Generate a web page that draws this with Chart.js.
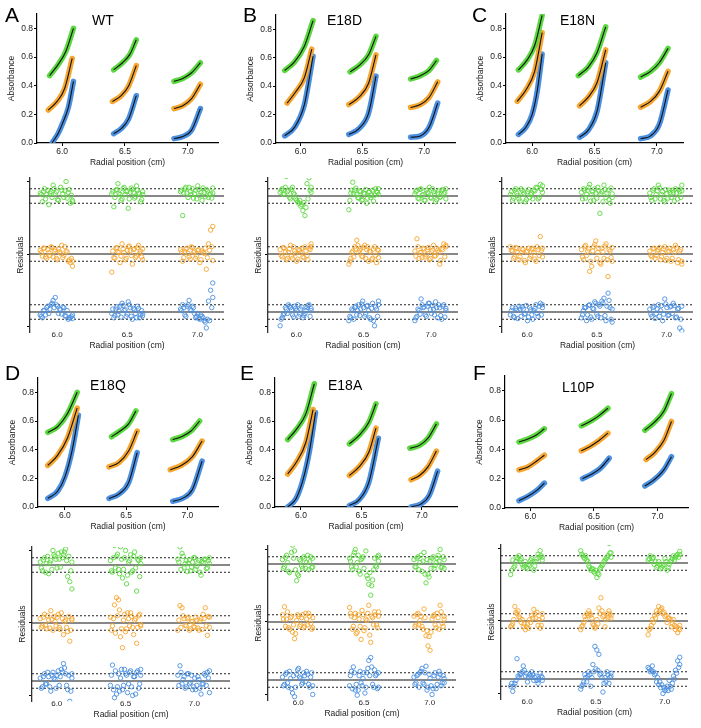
<!DOCTYPE html>
<html>
<head>
<meta charset="utf-8">
<script src="https://cdn.jsdelivr.net/npm/chart.js@4.4.1/dist/chart.umd.min.js"></script>
<style>
  body { margin: 0; background: #fff; width: 701px; height: 728px; position: relative; overflow: hidden;
         font-family: "Liberation Sans", Arial, sans-serif; color: #000; }
  .letter { position: absolute; font-size: 21px; line-height: 21px; }
  .name { position: absolute; font-size: 14px; line-height: 14px; }
</style>
</head>
<body>
<script>
Chart.defaults.font.family = '"Liberation Sans", Arial, sans-serif';
Chart.defaults.color = "#222";

const panelLetters = ["A", "B", "C", "D", "E", "F"];
const panelNames = ["WT", "E18D", "E18N", "E18Q", "E18A", "L10P"];
const radialTicks = [6.0, 6.5, 7.0];
const absTicks = [0.0, 0.2, 0.4, 0.6, 0.8];
const residualTicks = [-100, 0, 100];
const residualOffsets = [80, 0, -80]; // green, orange, blue baselines
const residualLimit = 10;             // dotted lines
const residualSpans = [[5.88, 6.11], [6.39, 6.61], [6.88, 7.11]];
const seriesColors = ["#5bd83f", "#f6a630", "#4a8fe0"];

/* ABSORBANCE: [radial position, absorbance] for each of the 3 segments */
const wtGreen = [[[5.90, 0.47], [5.97, 0.55], [6.03, 0.64], [6.09, 0.80]],
                 [[6.41, 0.51], [6.48, 0.56], [6.54, 0.62], [6.59, 0.72]],
                 [[6.89, 0.43], [6.96, 0.45], [7.03, 0.49], [7.10, 0.56]]];
const wtOrange = [[[5.89, 0.23], [5.96, 0.29], [6.02, 0.38], [6.08, 0.59]],
                  [[6.40, 0.29], [6.47, 0.33], [6.53, 0.40], [6.59, 0.54]],
                  [[6.89, 0.24], [6.96, 0.26], [7.03, 0.31], [7.10, 0.41]]];
const wtBlue = [[[5.92, 0.00], [5.97, 0.07], [6.00, 0.13], [6.05, 0.25], [6.09, 0.43]],
                [[6.41, 0.065], [6.47, 0.10], [6.53, 0.17], [6.59, 0.33]],
                [[6.89, 0.03], [6.96, 0.045], [7.03, 0.09], [7.10, 0.24]]];

const e18dGreen = [[[5.87, 0.51], [5.95, 0.57], [6.03, 0.68], [6.10, 0.86]],
                   [[6.40, 0.50], [6.48, 0.55], [6.55, 0.62], [6.61, 0.75]],
                   [[6.89, 0.45], [6.96, 0.47], [7.04, 0.51], [7.10, 0.58]]];
const e18dOrange = [[[5.89, 0.28], [5.96, 0.36], [6.03, 0.46], [6.09, 0.66]],
                    [[6.39, 0.27], [6.47, 0.32], [6.55, 0.42], [6.61, 0.62]],
                    [[6.89, 0.25], [6.97, 0.27], [7.04, 0.32], [7.11, 0.43]]];
const e18dBlue = [[[5.87, 0.05], [5.95, 0.11], [6.03, 0.27], [6.10, 0.61]],
                  [[6.39, 0.06], [6.47, 0.10], [6.55, 0.21], [6.61, 0.47]],
                  [[6.89, 0.04], [6.97, 0.05], [7.04, 0.11], [7.11, 0.28]]];

const e18nGreen = [[[5.89, 0.51], [5.96, 0.58], [6.02, 0.68], [6.08, 0.89]],
                   [[6.37, 0.47], [6.45, 0.53], [6.52, 0.63], [6.59, 0.81]],
                   [[6.87, 0.46], [6.95, 0.50], [7.02, 0.56], [7.09, 0.66]]];
const e18nOrange = [[[5.88, 0.29], [5.95, 0.37], [6.02, 0.50], [6.08, 0.77]],
                    [[6.38, 0.26], [6.45, 0.32], [6.52, 0.42], [6.59, 0.65]],
                    [[6.87, 0.25], [6.95, 0.29], [7.02, 0.36], [7.09, 0.50]]];
const e18nBlue = [[[5.89, 0.06], [5.95, 0.11], [6.00, 0.20], [6.04, 0.36], [6.08, 0.62]],
                  [[6.38, 0.04], [6.45, 0.09], [6.52, 0.22], [6.59, 0.56]],
                  [[6.87, 0.03], [6.95, 0.05], [7.02, 0.13], [7.09, 0.37]]];

const e18qGreen = [[[5.86, 0.52], [5.94, 0.56], [6.02, 0.65], [6.10, 0.80]],
                   [[6.38, 0.49], [6.45, 0.53], [6.52, 0.58], [6.58, 0.67]],
                   [[6.88, 0.47], [6.95, 0.49], [7.03, 0.53], [7.10, 0.60]]];
const e18qOrange = [[[5.86, 0.29], [5.94, 0.36], [6.02, 0.48], [6.10, 0.69]],
                    [[6.36, 0.28], [6.44, 0.31], [6.52, 0.39], [6.59, 0.53]],
                    [[6.86, 0.26], [6.95, 0.29], [7.04, 0.35], [7.12, 0.46]]];
const e18qBlue = [[[5.86, 0.06], [5.94, 0.11], [6.00, 0.21], [6.06, 0.40], [6.11, 0.64]],
                  [[6.36, 0.06], [6.44, 0.09], [6.52, 0.17], [6.59, 0.38]],
                  [[6.88, 0.04], [6.96, 0.06], [7.04, 0.12], [7.12, 0.32]]];

const e18aGreen = [[[5.89, 0.47], [5.96, 0.54], [6.04, 0.65], [6.11, 0.86]],
                   [[6.40, 0.44], [6.48, 0.50], [6.56, 0.59], [6.62, 0.72]],
                   [[6.90, 0.41], [6.98, 0.43], [7.05, 0.48], [7.12, 0.58]]];
const e18aOrange = [[[5.89, 0.23], [5.96, 0.31], [6.04, 0.45], [6.10, 0.68]],
                    [[6.40, 0.22], [6.48, 0.28], [6.56, 0.38], [6.62, 0.55]],
                    [[6.91, 0.19], [6.98, 0.22], [7.05, 0.28], [7.12, 0.39]]];
const e18aBlue = [[[5.89, 0.00], [5.96, 0.06], [6.02, 0.20], [6.07, 0.39], [6.12, 0.66]],
                  [[6.40, 0.01], [6.48, 0.05], [6.56, 0.17], [6.64, 0.48]],
                  [[6.91, 0.00], [6.99, 0.02], [7.06, 0.08], [7.13, 0.25]]];

const l10pGreen = [[[5.91, 0.45], [5.98, 0.47], [6.05, 0.50], [6.11, 0.54]],
                   [[6.40, 0.56], [6.47, 0.59], [6.54, 0.63], [6.61, 0.68]],
                   [[6.90, 0.53], [6.97, 0.58], [7.05, 0.66], [7.11, 0.78]]];
const l10pOrange = [[[5.91, 0.26], [5.98, 0.28], [6.05, 0.32], [6.11, 0.36]],
                    [[6.40, 0.39], [6.47, 0.42], [6.54, 0.46], [6.61, 0.51]],
                    [[6.91, 0.33], [6.98, 0.38], [7.05, 0.46], [7.11, 0.59]]];
const l10pBlue = [[[5.91, 0.05], [5.98, 0.08], [6.05, 0.12], [6.11, 0.17]],
                  [[6.41, 0.20], [6.48, 0.23], [6.55, 0.27], [6.62, 0.34]],
                  [[6.90, 0.15], [6.97, 0.19], [7.05, 0.26], [7.11, 0.35]]];

/* RESIDUALS (mAU), one list per segment, read left to right.
   "...Res" = first pass of points, "...Res2" = the points lying between them */
const wtGreenRes = [[4, -8, 10, 2, -12, 6, 15, 3, -5, 28, 8, -2, 20, 5, -10, -6],
                    [3, -15, 8, 17, 2, -4, 12, 6, -17, 5, 9, -3, 14, 4, -8, 2],
                    [6, -27, 10, 4, 12, 2, -3, 8, 14, 1, -6, 5, 9, -2, 3, 11]];
const wtGreenRes2 = [[2, 6, -4, 8, 4, -2, 10, 6, -6, 12, 3, 7, -3, 9, 1, -8],
                     [6, -2, 9, 4, -6, 10, 2, 7, -4, 11, 5, -1, 8, 3, -5, 6],
                     [8, 4, 12, -2, 6, 10, 3, -4, 9, 5, 11, -1, 7, 2, -3, 4]];
const wtOrangeRes = [[5, -3, 8, -6, 2, 10, -4, 6, -8, 3, 12, -2, 4, -10, -12, -17],
                     [-25, -5, 8, 3, -12, 14, 2, -6, 10, 5, -14, 7, -3, 12, 4, -8],
                     [6, -10, 3, 8, -4, 10, 2, -6, 5, -12, 4, 1, -21, 14, 33, 38]];
const wtOrangeRes2 = [[2, 8, -4, 6, -2, 9, 4, -6, 7, 1, -5, 10, 3, -8, -6, -10],
                      [4, -6, 9, 2, -3, 7, -8, 5, 11, -2, 6, -5, 9, 1, -4, 7],
                      [3, -5, 7, 1, -7, 9, 4, -3, 6, -8, 2, 8, -5, 5, 10, -9]];
const wtBlueRes = [[-4, -8, 2, 6, -2, 10, 16, 20, 8, 4, -3, 6, -6, -10, -8, -4],
                   [-2, -8, 4, -4, 8, 12, 2, -6, 14, 6, -10, 3, -8, 5, -4, -2],
                   [4, 10, -4, 8, 16, 2, 6, -8, -2, -10, -6, -12, -22, 15, 30, 40]];
const wtBlueRes2 = [[-6, 2, -4, 8, 4, 12, 6, 10, -2, 3, 7, -5, 2, -8, -6, -9],
                    [4, -5, 7, 1, -7, 9, 3, -3, 10, -6, 5, -2, 8, -8, 2, -5],
                    [2, 6, -6, 10, 3, 8, -2, -6, -9, -4, -8, -14, -10, -12, 6, 20]];

const e18dGreenRes = [[5, 10, 3, 27, 8, -4, 12, 2, -6, -10, -14, -20, -27, 17, 25, 5],
                      [-19, 4, 19, 8, 2, -3, 6, -5, 3, -10, 5, -2, 8, 1, 6, 10],
                      [3, 8, -4, 10, 2, -6, 5, 12, -3, 6, -8, 4, -2, 7, 3, 10]];
const e18dGreenRes2 = [[8, 2, 12, 6, -2, 9, 4, -4, -8, -6, -12, -9, -16, -4, 8, 12],
                       [-6, 8, 3, 11, -2, 7, -6, 4, 9, -3, 6, 1, -7, 10, 5, 2],
                       [6, -3, 9, 1, -6, 8, 4, -2, 10, 3, -5, 7, -1, 9, 5, -4]];
const e18dOrangeRes = [[6, -4, 8, -8, 2, 12, -6, 4, -10, 6, 2, -4, 10, -2, 8, 14],
                       [-14, -6, 4, 10, 19, 2, 8, -4, 12, 6, -10, 3, -6, 10, -12, 5],
                       [4, 21, -6, 2, 8, -4, 6, -8, 3, 12, -2, 5, -14, 8, 14, 10]];
const e18dOrangeRes2 = [[-2, 9, 3, -6, 7, -3, 10, 1, -7, 5, 8, -5, 4, -8, 6, 10],
                        [-10, 2, -4, 7, 12, 5, -3, 9, -6, 10, 4, -8, 7, -2, 6, -5],
                        [-3, 10, 2, -5, 7, -1, 9, -6, 5, -3, 8, 2, -9, 6, -4, 12]];
const e18dBlueRes = [[-19, -8, -2, 4, 10, 6, -4, 8, 2, -6, 4, -8, -2, 6, 10, 2],
                     [-12, -8, 2, 6, -4, 10, 4, 15, -6, 8, 2, -10, 12, -19, 4, 15],
                     [-12, -6, 2, 18, 6, -4, 8, 12, -2, 4, 14, -8, 6, -10, 10, 2]];
const e18dBlueRes2 = [[-10, -4, 6, -2, 8, 3, -7, 5, 10, -3, 7, -5, 2, 9, -6, 5],
                      [-6, 4, -10, 8, 2, -5, 11, 6, -3, 9, -8, 5, -12, 7, -6, 10],
                      [-8, 4, -3, 10, 7, -6, 12, 3, 9, -4, 6, 10, -5, 8, -7, 5]];

const e18nGreenRes = [[2, -6, 8, 4, -4, 10, 2, -8, 6, -2, 4, 8, 12, -4, 16, 14],
                      [5, 10, -3, 8, 16, 2, -6, 4, 12, -24, 6, 15, -2, 8, -10, 3],
                      [4, -6, 10, 2, 15, -4, 6, -8, 3, 8, -2, 5, 10, -4, 6, 15]];
const e18nGreenRes2 = [[6, -3, 10, 1, -7, 8, 4, -5, 9, 2, -4, 7, 11, -2, 9, 5],
                       [-4, 8, 2, 12, -7, 6, 10, -3, 7, 3, -8, 9, 4, -5, 11, -2],
                       [-2, 8, -4, 7, 11, 2, -6, 9, -3, 5, 8, -7, 4, 9, -2, 7]];
const e18nOrangeRes = [[10, 4, -4, 8, -8, 2, 6, -12, 4, -6, 8, 2, -10, 6, 24, -4],
                       [6, -8, 12, 4, -24, -17, 10, 18, 2, -12, 8, -6, 14, -31, 4, -10],
                       [4, -4, 8, -2, 6, -8, 2, 10, -6, 4, -10, 6, 12, -12, 4, -14]];
const e18nOrangeRes2 = [[5, -6, 9, 2, -4, 7, -9, 3, 8, -3, 6, -7, 10, -2, 5, 8],
                        [-4, 10, -2, 7, -10, 4, 13, -6, 8, -14, 3, 11, -8, 6, -5, 9],
                        [-2, 7, -6, 4, 9, -4, 7, -9, 3, 8, -6, 2, 9, -8, 6, -10]];
const e18nBlueRes = [[-4, 6, -8, 2, 8, -6, 4, -2, -12, 6, -4, 2, 10, -6, 12, 6],
                     [-8, 2, 6, -4, 10, -10, 4, 12, -6, 8, 15, 19, -12, 26, 6, -14],
                     [4, -6, 8, -2, 10, 2, -12, 18, 6, -4, 8, 12, -8, 4, -22, -26]];
const e18nBlueRes2 = [[2, -6, 5, -9, 4, 7, -3, 9, -7, 3, -10, 5, -2, 8, -4, 10],
                      [-4, 6, -12, 9, -7, 5, 14, -3, 10, -8, 12, -5, 8, 16, -10, 4],
                      [-3, 6, -9, 4, -6, 9, -3, 11, -5, 7, -2, 9, -7, 5, -10, 8]];

const e18qGreenRes = [[4, -8, 10, 2, -12, 6, 20, 12, -4, 8, 18, 14, 22, -16, -23, -33],
                      [6, -10, 27, 12, -6, 25, -18, 10, -26, 4, 14, -8, 18, -36, 6, 2],
                      [8, 25, 16, -4, 6, 2, -8, 4, 10, -2, 6, -14, 3, 8, -4, 10]];
const e18qGreenRes2 = [[-4, 7, -10, 12, 3, -6, 14, 8, 16, -3, 10, 18, 6, 12, -8, 4],
                       [-8, 10, -4, 15, -12, 8, -6, 20, -14, 6, -10, 12, -4, 8, -16, 10],
                       [4, -6, 12, 2, -9, 7, -3, 10, -6, 3, -10, 5, 8, -5, 6, 2]];
const e18qOrangeRes = [[6, -4, 12, -8, 4, 17, -10, 2, 8, -6, 14, -16, 4, -12, -25, 6],
                       [8, -4, 25, 35, 32, -19, -34, 12, -8, 6, 14, -6, 4, -28, 10, -4],
                       [-10, 24, 21, 6, -4, 8, -8, 2, -6, 4, -10, 6, 12, 21, -17, 8]];
const e18qOrangeRes2 = [[-6, 8, -3, 10, -7, 5, 9, -4, 12, -9, 6, 2, -6, 9, -10, 4],
                        [-10, 6, -14, 10, 18, -8, 4, -12, 14, -4, 9, -16, 6, -6, 12, -2],
                        [4, -6, 10, -3, 6, -10, 2, -5, 8, -7, 3, -9, 6, -4, 9, -6]];
const e18qBlueRes = [[4, -8, 10, -4, 6, -14, 12, 2, 8, -6, 16, 24, 10, -12, -28, 4],
                     [-6, 22, -23, -18, 10, 4, -12, 16, 8, -4, 14, -20, 6, 12, -10, 16],
                     [8, 21, -4, 6, -8, 10, -2, -12, 4, -6, 2, -18, -4, 8, 12, -16]];
const e18qBlueRes2 = [[-10, 6, -4, 12, -8, 8, 4, -10, 14, 6, 12, 18, -6, 8, -14, 10],
                      [8, -12, 14, -8, -14, 16, -6, 10, -16, 12, -8, 6, -18, 14, -4, 8],
                      [-6, 12, 2, -10, 10, -4, 8, -8, -12, 6, -10, -4, 10, -6, 4, 14]];

const e18aGreenRes = [[6, -4, 12, -10, 30, 26, 18, -23, -16, 4, -6, 8, 2, -8, 10, -4],
                      [8, -4, 12, 20, 2, -10, 6, 10, 29, -16, -28, -43, -22, 8, -4, 12],
                      [6, -4, 10, 2, -10, 16, -26, -14, 4, 8, -6, 2, 12, 20, -4, 6]];
const e18aGreenRes2 = [[-6, 9, 2, -12, 16, 8, -8, -14, 6, -3, 10, -6, 12, 3, -5, 8],
                       [4, -8, 16, -4, 12, -14, 8, -6, 18, -20, -12, -30, -8, -2, 10, 4],
                       [-4, 8, -8, 12, 4, -14, 6, -18, -6, 10, -2, 8, 4, -5, 10, -6]];
const e18aOrangeRes = [[10, 21, 4, -8, 6, -14, -23, 2, 8, -4, 10, -6, 4, 12, -2, -8],
                       [20, 8, -6, 12, -14, 4, -24, 10, -8, 2, 23, -28, 6, 14, -4, 8],
                       [8, -4, 12, 2, -6, 18, -19, -33, -39, 4, 10, -8, 6, 23, -2, 8]];
const e18aOrangeRes2 = [[4, -6, 14, -10, 8, -4, -16, 10, -6, 6, -8, 12, -4, 8, -10, 6],
                        [12, -10, 6, -16, 10, -6, 16, -12, 4, 12, -18, 8, -4, 10, -8, 14],
                        [-6, 10, -4, 8, -10, 6, -12, -20, -14, 8, -4, 12, -10, 14, -6, 4]];
const e18aBlueRes = [[4, -6, 10, -10, 2, -18, -23, 8, 16, 2, -4, 6, 12, -6, 4, -20],
                     [-8, 12, 18, -14, -21, 6, -4, 2, -18, 10, 27, 31, -6, 14, 8, -10],
                     [4, -4, 8, 10, 16, -6, 19, -10, 2, -20, 6, -12, 4, 8, -4, 2]];
const e18aBlueRes2 = [[-8, 8, -4, 12, -12, 6, -10, 14, 4, -6, 10, -2, 8, -10, 10, -8],
                      [6, -12, 10, -6, -14, 12, -8, 10, -10, 16, 6, 18, -10, 6, -12, 10],
                      [-6, 6, -10, 12, -4, 10, -14, 8, -8, -12, 10, -6, 12, -8, 6, -4]];

const l10pGreenRes = [[-16, 4, -4, 8, 10, 6, -6, 2, -8, -4, 6, -10, 2, 12, 17, 8],
                      [17, 10, 6, 4, -4, -10, -8, -14, -20, -16, -6, -2, 4, 8, 27, 14],
                      [4, 10, 6, -2, -6, 2, -8, -4, 6, -10, -2, 4, 10, 8, 12, 16]];
const l10pGreenRes2 = [[-10, -6, 2, 6, 4, -2, -4, -6, -2, 4, 2, -4, 6, 8, 10, 4],
                       [12, 8, 10, 2, -6, -8, -12, -10, -14, -8, -4, 2, 6, 10, 14, 8],
                       [6, 2, 8, 2, -4, -2, -6, -2, 2, -6, 2, 6, 4, 10, 8, 12]];
const l10pOrangeRes = [[-8, -4, 20, 10, 6, -2, -8, -12, -4, 2, 8, 16, 4, -6, -10, 10],
                       [-12, -6, 6, 10, 14, 8, -4, -10, 2, 18, 32, 6, -8, 10, 14, 4],
                       [-19, -10, 2, 8, 14, 20, 16, 10, 6, -2, 4, -8, 2, -12, -16, -6]];
const l10pOrangeRes2 = [[-6, 2, 12, 14, 4, 2, -4, -8, -10, -2, 4, 10, 12, 2, -6, 4],
                        [-8, -2, 2, 8, 10, 4, -6, -8, -4, 10, 14, 8, 2, 4, 10, 8],
                        [-12, -6, -2, 4, 10, 14, 18, 12, 8, 4, 2, -4, -6, -8, -10, -12]];
const l10pBlueRes = [[-10, -17, -6, 28, 2, 8, 18, 4, -4, 6, 10, -2, 4, -6, 8, -2],
                     [-14, -8, 6, -4, 10, -10, 20, 45, 40, 34, 8, -18, 2, 10, -6, 4],
                     [16, 10, 18, 6, -4, -8, -12, -20, -16, -10, -2, -14, 4, 12, 25, 30]];
const l10pBlueRes2 = [[-6, -10, -2, 4, 6, 10, 12, 8, 2, 4, 6, 2, -2, 0, 4, 2],
                      [-10, -4, 2, 4, 6, 2, 10, 14, 12, 6, 2, -6, -4, 6, 2, 8],
                      [14, 12, 10, 8, 2, -4, -8, -12, -14, -16, -10, -6, 0, 8, 16, 20]];

const absData = [
  [wtGreen, wtOrange, wtBlue], [e18dGreen, e18dOrange, e18dBlue], [e18nGreen, e18nOrange, e18nBlue],
  [e18qGreen, e18qOrange, e18qBlue], [e18aGreen, e18aOrange, e18aBlue], [l10pGreen, l10pOrange, l10pBlue]
];
const resData = [
  [wtGreenRes, wtOrangeRes, wtBlueRes], [e18dGreenRes, e18dOrangeRes, e18dBlueRes],
  [e18nGreenRes, e18nOrangeRes, e18nBlueRes], [e18qGreenRes, e18qOrangeRes, e18qBlueRes],
  [e18aGreenRes, e18aOrangeRes, e18aBlueRes], [l10pGreenRes, l10pOrangeRes, l10pBlueRes]
];
const resData2 = [
  [wtGreenRes2, wtOrangeRes2, wtBlueRes2], [e18dGreenRes2, e18dOrangeRes2, e18dBlueRes2],
  [e18nGreenRes2, e18nOrangeRes2, e18nBlueRes2], [e18qGreenRes2, e18qOrangeRes2, e18qBlueRes2],
  [e18aGreenRes2, e18aOrangeRes2, e18aBlueRes2], [l10pGreenRes2, l10pOrangeRes2, l10pBlueRes2]
];

/* LAYOUT (page pixels) */
const colX = [0, 235, 470], colW = [235, 235, 231];
const absRow = [[0, 172], [360, 177]];
const resRow = [[172, 188], [537, 191]];
const absArea = [[37, 218, 14, 143], [276, 455, 15, 143], [506, 683, 14, 143],
                 [38, 218, 378, 507], [275, 457, 378, 507], [505, 688, 376, 508]];
const absX = [[5.80, 7.24], [5.80, 7.25], [5.79, 7.21], [5.78, 7.25], [5.785, 7.29], [5.80, 7.24]];
const resArea = [[30, 224, 254], [268, 458, 254], [502, 693, 254], [32, 232, 623], [268, 456, 622], [501, 688, 621]];
const resX = [[5.807, 7.19], [5.79, 7.2], [5.82, 7.19], [5.82, 7.26], [5.77, 7.2], [5.81, 7.17]];
const resMin = -108, resMax = 105, resPx = 0.725;
const letterPos = [[5, 4], [243, 4], [472, 4], [5, 362], [240, 362], [473, 362]];
const namePos = [[92, 13], [327, 13], [560, 13], [90, 378], [328, 378], [562, 380]];

function addCanvas(x, y, w, h) {
  const c = document.createElement("canvas");
  c.width = w;
  c.height = h;
  c.style.cssText = `position:absolute;left:${x}px;top:${y}px;width:${w}px;height:${h}px`;
  document.body.appendChild(c);
  return c;
}

function addText(cls, text, pos) {
  const d = document.createElement("div");
  d.className = cls;
  d.textContent = text;
  d.style.left = pos[0] + "px";
  d.style.top = pos[1] + "px";
  document.body.appendChild(d);
}

function fixedTicks(values) {
  return (scale) => { scale.ticks = values.map((v) => ({ value: v })); };
}

function drawAbsorbance(i) {
  const col = i % 3, row = Math.floor(i / 3);
  const [L, R, T, B] = absArea[i];
  const bx = colX[col], bw = colW[col];
  const [by, bh] = absRow[row];
  const yw = 30, xh = 25;

  const datasets = [];
  absData[i].forEach((segments, c) => {
    segments.forEach((seg) => {
      const pts = seg.map(([x, y]) => ({ x, y }));
      datasets.push({ data: pts, showLine: true, borderColor: "#111", borderWidth: 1.1,
        pointRadius: 0, cubicInterpolationMode: "monotone", order: 0 });
      datasets.push({ data: pts, showLine: true, borderColor: seriesColors[c], borderWidth: 5.5,
        borderCapStyle: "round", pointRadius: 0, cubicInterpolationMode: "monotone", order: 1 });
    });
  });

  new Chart(addCanvas(bx, by, bw, bh), {
    type: "scatter",
    data: { datasets },
    options: {
      responsive: false,
      animation: false,
      layout: { padding: { left: L - bx - yw, right: bx + bw - R, top: T - by, bottom: by + bh - B - xh } },
      plugins: { legend: { display: false }, tooltip: { enabled: false } },
      scales: {
        x: {
          type: "linear", min: absX[i][0], max: absX[i][1],
          afterBuildTicks: fixedTicks(radialTicks),
          afterFit: (s) => { s.height = xh; },
          ticks: { font: { size: 8.5 }, padding: 1, color: "#222", callback: (v) => v.toFixed(1) },
          grid: { display: true, drawOnChartArea: false, tickLength: 3, color: "#000" },
          border: { display: true, color: "#000", width: 1.2 },
          title: { display: true, text: "Radial position (cm)", font: { size: 8.5 }, padding: 0, color: "#222" }
        },
        y: {
          type: "linear", min: 0, max: 0.9,
          afterBuildTicks: fixedTicks(absTicks),
          afterFit: (s) => { s.width = yw; },
          ticks: { font: { size: 8.5 }, padding: 1, color: "#222", callback: (v) => v.toFixed(1) },
          grid: { display: true, drawOnChartArea: false, tickLength: 3, color: "#000" },
          border: { display: true, color: "#000", width: 1.2 },
          title: { display: true, text: "Absorbance", font: { size: 8.5 }, padding: 0, color: "#222" }
        }
      }
    }
  });
}

function residualPoints(vals, span, off, shift) {
  const [lo, hi] = span;
  const step = (hi - lo) / (vals.length - 1);
  return vals.map((r, j) => ({ x: Math.min(hi, lo + step * (j + shift)), y: off + r }));
}

function drawResiduals(i) {
  const col = i % 3, row = Math.floor(i / 3);
  const [L, R, Y0] = resArea[i];
  const T = Y0 - resMax * resPx, B = Y0 - resMin * resPx;
  const bx = colX[col], bw = colW[col];
  const [by, bh] = resRow[row];
  const yw = 14, xh = 18;
  const [xmin, xmax] = resX[i];

  const datasets = [];
  resData[i].forEach((clusters, c) => {
    const off = residualOffsets[c];
    const color = seriesColors[c];
    clusters.forEach((vals, k) => {
      const pts = residualPoints(vals, residualSpans[k], off, 0)
        .concat(residualPoints(resData2[i][c][k], residualSpans[k], off, 0.5));
      datasets.push({
        data: pts, pointRadius: 2.2, pointBorderWidth: 0.9, borderColor: color,
        backgroundColor: "rgba(0,0,0,0)", pointBorderColor: color,
        pointBackgroundColor: "rgba(0,0,0,0)", order: 1
      });
    });
    datasets.push({ data: [{ x: xmin, y: off }, { x: xmax, y: off }], showLine: true,
      borderColor: "#111", borderWidth: 1.2, pointRadius: 0, order: 2 });
    [residualLimit, -residualLimit].forEach((d) => {
      datasets.push({ data: [{ x: xmin, y: off + d }, { x: xmax, y: off + d }], showLine: true,
        borderColor: "#222", borderWidth: 1, borderDash: [2, 2], pointRadius: 0, order: 2 });
    });
  });

  new Chart(addCanvas(bx, by, bw, bh), {
    type: "scatter",
    data: { datasets },
    options: {
      responsive: false,
      animation: false,
      layout: { padding: { left: L - bx - yw, right: bx + bw - R, top: T - by, bottom: by + bh - B - xh } },
      plugins: { legend: { display: false }, tooltip: { enabled: false } },
      scales: {
        x: {
          type: "linear", min: xmin, max: xmax,
          afterBuildTicks: fixedTicks(radialTicks),
          afterFit: (s) => { s.height = xh; },
          ticks: { font: { size: 8 }, padding: -2, color: "#222", callback: (v) => v.toFixed(1) },
          grid: { display: false, drawTicks: false, tickLength: 0 },
          border: { display: false },
          title: { display: true, text: "Radial position (cm)", font: { size: 8.5 }, padding: 0, color: "#222" }
        },
        y: {
          type: "linear", min: resMin, max: resMax,
          afterBuildTicks: fixedTicks(residualTicks),
          afterFit: (s) => { s.width = yw; },
          ticks: { display: false },
          grid: { display: true, drawOnChartArea: false, tickLength: 3, color: "#000" },
          border: { display: true, color: "#333", width: 1.3 },
          title: { display: true, text: "Residuals", font: { size: 8.5 }, padding: 0, color: "#222" }
        }
      }
    }
  });
}

for (let i = 0; i < 6; i++) {
  drawAbsorbance(i);
  drawResiduals(i);
  addText("letter", panelLetters[i], letterPos[i]);
  addText("name", panelNames[i], namePos[i]);
}
</script>
</body>
</html>
